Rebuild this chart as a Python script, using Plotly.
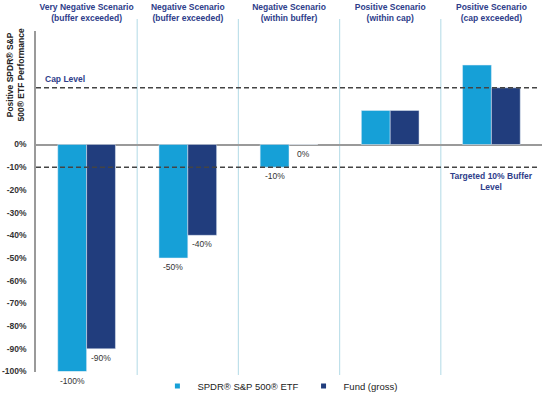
import plotly.graph_objects as go

categories = ["Very Negative Scenario<br>(buffer exceeded)",
              "Negative Scenario<br>(buffer exceeded)",
              "Negative Scenario<br>(within buffer)",
              "Positive Scenario<br>(within cap)",
              "Positive Scenario<br>(cap exceeded)"]
spdr = [-100, -50, -10, 15, 35]
fund = [-90, -40, 0, 15, 25]
spdr_labels = ["-100%", "-50%", "-10%", "", ""]
fund_labels = ["-90%", "-40%", "0%", "", ""]
cap_level = 25
buffer_level = -10
ytick_vals = [0, -10, -20, -30, -40, -50, -60, -70, -80, -90, -100]
ytick_text = ["0%", "-10%", "-20%", "-30%", "-40%", "-50%", "-60%", "-70%", "-80%", "-90%", "-100%"]

C1 = "#16a0d7"
C2 = "#213d7d"
TITLE_C = "#2e3d8a"
FONT = "Liberation Sans, Arial, sans-serif"

x = list(range(len(categories)))
fig = go.Figure()
fig.add_trace(go.Bar(x=x, y=spdr, marker_color=C1, name="SPDR® S&P 500® ETF", showlegend=False))
fig.add_trace(go.Bar(x=x, y=fund, marker_color=C2, name="Fund (gross)", showlegend=False))
fig.add_trace(go.Scatter(x=[None], y=[None], mode="markers", marker=dict(symbol="square", size=5, color=C1),
                         name="SPDR® S&P 500® ETF"))
fig.add_trace(go.Scatter(x=[None], y=[None], mode="markers", marker=dict(symbol="square", size=5, color=C2),
                         name="Fund (gross)"))

bargap = 0.43
half = (1 - bargap) / 4
annotations = []
for i in x:
    for val, lab, off in ((spdr[i], spdr_labels[i], -half), (fund[i], fund_labels[i], half)):
        if lab:
            annotations.append(dict(x=i + off, y=val, text=lab, showarrow=False, yanchor="top", yshift=-2,
                                    font=dict(size=8.5, color="#333333", family=FONT)))

annotations.append(dict(xref="paper", yref="paper", x=-0.041, y=0.87, xanchor="center", yanchor="middle",
                        text="<b>Positive SPDR® S&P<br>500® ETF Performance</b>",
                        textangle=-90, showarrow=False, font=dict(size=8.5, color="#222222", family=FONT)))
annotations.append(dict(xref="paper", x=0.014, y=cap_level, text="<b>Cap Level</b>", showarrow=False,
                        xanchor="left", yanchor="bottom", yshift=2, font=dict(size=8.5, color=TITLE_C, family=FONT)))
annotations.append(dict(x=4, y=buffer_level, text="<b>Targeted 10% Buffer<br>Level</b>", showarrow=False,
                        yanchor="top", yshift=-2, font=dict(size=8.5, color=TITLE_C, family=FONT)))

shapes = []
for b in [0.5, 1.5, 2.5, 3.5]:
    shapes.append(dict(type="line", xref="x", yref="paper", x0=b, x1=b, y0=-0.01, y1=1.035,
                       line=dict(color="#bfe0ea", width=1.2), layer="below"))
for lvl in (cap_level, buffer_level):
    shapes.append(dict(type="line", xref="paper", yref="y", x0=0, x1=0.995, y0=lvl, y1=lvl,
                       line=dict(color="#444444", width=1.5, dash="5px,3px")))

fig.update_layout(
    width=551, height=400,
    margin=dict(l=36, r=9, t=31, b=28),
    paper_bgcolor="white", plot_bgcolor="white",
    barmode="group", bargap=bargap, bargroupgap=0,
    font=dict(family=FONT),
    xaxis=dict(range=[-0.5, 4.5], side="top", tickvals=x, ticktext=["<b>%s</b>" % c for c in categories],
               tickfont=dict(size=8.5, color=TITLE_C, family=FONT), showgrid=False, zeroline=False,
               showline=False, ticks="", automargin=False, ticklabelstandoff=7),
    yaxis=dict(range=[-100, 50], tickvals=ytick_vals, ticktext=["<b>%s</b>" % t for t in ytick_text],
               tickfont=dict(size=8.5, color="#333333", family=FONT), showgrid=False,
               zeroline=True, zerolinecolor="#9a9a9a", zerolinewidth=1.5,
               showline=True, linecolor="#9a9a9a", linewidth=1.5, ticks="", automargin=False,
               ticklabelstandoff=6),
    legend=dict(orientation="h", xref="container", yref="container", x=0.508, xanchor="center",
                y=0.035, yanchor="middle",
                font=dict(size=9.5, color="#222222", family=FONT), itemwidth=30, bgcolor="rgba(0,0,0,0)"),
    annotations=annotations, shapes=shapes,
)
fig.write_html("out.html", config={"displayModeBar": False},
               post_script="document.body.style.margin='0px';")
